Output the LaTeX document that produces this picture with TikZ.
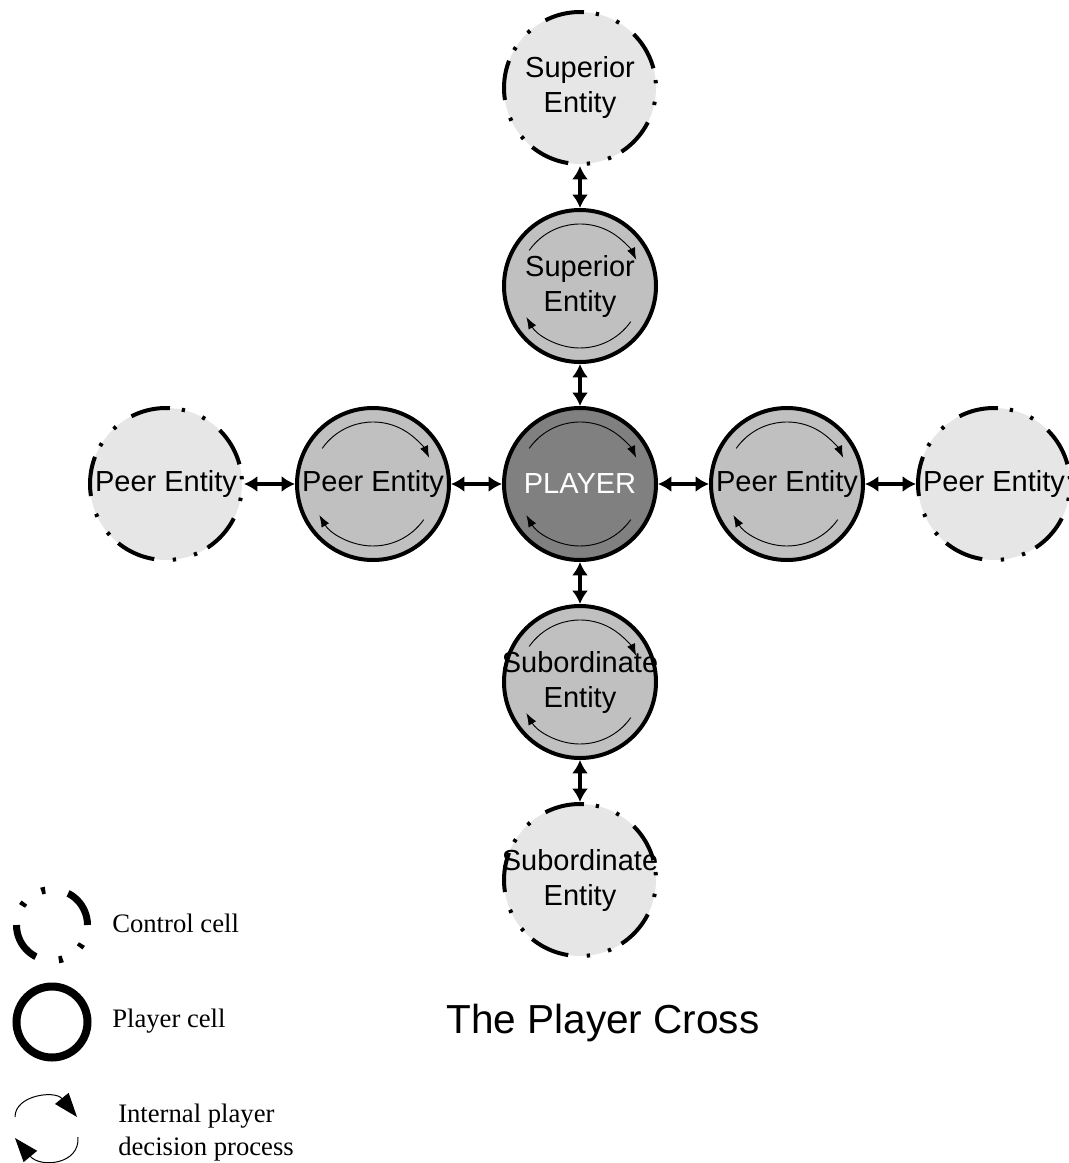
\documentclass[tikz,border=0pt]{standalone}
\usepackage{fontspec}
\setmainfont{Liberation Serif}
\newfontfamily\cellfont{Liberation Sans}
\usetikzlibrary{positioning, arrows.meta}
\definecolor{ctrlgray}{HTML}{E6E6E6}
\definecolor{playergray}{HTML}{C0C0C0}
\definecolor{centergray}{HTML}{808080}

\begin{document}
\begin{tikzpicture}[x=0.75pt, y=0.75pt, node distance=148.5pt and 155.25pt, on grid,
    cell/.style={circle, minimum size=114pt, inner sep=0pt, align=center,
      font=\cellfont\fontsize{21.75}{26.25}\selectfont},
    control/.style={cell, draw, fill=ctrlgray, line width=3pt,
      dash pattern=on 29.85pt off 13.93pt on 2.49pt off 13.93pt on 2.49pt off 8.96pt,
      dash phase=56.7pt},
    player/.style={cell, draw, fill=playergray, line width=3pt},
    link/.style={{Latex[length=10pt,width=12pt]}-{Latex[length=10pt,width=12pt]}, line width=3pt},
    inner turn/.style={-{Latex[length=9pt,width=6.5pt]}, line width=0.7pt},
    legend text/.style={inner sep=0pt, font=\fontsize{20}{24.75}\selectfont}]
    \useasboundingbox (0,0) rectangle (1068,-1163);

    % the cross
    \node[player, fill=centergray, text=white] (player) at (580,-484) {PLAYER};
    \node[player] (supcell) [above=of player] {Superior\\Entity};
    \node[control] (supctrl) [above=of supcell] {Superior\\Entity};
    \node[player] (subcell) [below=of player] {\makebox[0pt]{Subordinate}\\Entity};
    \node[control] (subctrl) [below=of subcell] {\makebox[0pt]{Subordinate}\\Entity};
    \node[player] (lpeer) [left=of player] {Peer Entity};
    \node[control] (lctrl) [left=of lpeer] {Peer Entity};
    \node[player] (rpeer) [right=of player] {Peer Entity};
    \node[control] (rctrl) [right=of rpeer] {Peer Entity};

    \foreach \c in {supcell, player, subcell, lpeer, rpeer} {
      \draw[inner turn] (\c.center) ++(145:62) arc[start angle=145, end angle=25, radius=62];
      \draw[inner turn] (\c.center) ++(325:62) arc[start angle=325, end angle=210, radius=62];
    }

    \path[link]
    (supctrl) edge (supcell)
    (supcell) edge (player)
    (player) edge (subcell)
    (subcell) edge (subctrl)
    (lctrl) edge (lpeer)
    (lpeer) edge (player)
    (player) edge (rpeer)
    (rpeer) edge (rctrl);

    \node[font=\cellfont\fontsize{30.4}{36}\selectfont, anchor=base] (title) at (603,-1033) {The Player Cross};

    % legend
    \node[circle, draw, line width=5.25pt, minimum size=53.25pt,
      dash pattern=on 29.3pt off 17.6pt on 3pt off 15.6pt on 3pt off 15.15pt] (legctrl) at (52,-925) {};
    \node[circle, draw, line width=6pt, minimum size=53.25pt] (legplayer) at (52,-1022) {};
    \coordinate (legturn) at (46,-1130);
    \draw[line width=0.75pt, -{Triangle[length=18pt,width=13pt]}]
      ([shift={(-31,13)}]legturn) .. controls +(0,22) and +(-22,27) .. ([shift={(31,13)}]legturn);
    \draw[line width=0.75pt, -{Triangle[length=18pt,width=13pt]}]
      ([shift={(32,-7)}]legturn) .. controls +(2,-28) and +(25,-30) .. ([shift={(-31,-8)}]legturn);

    \node[legend text, anchor=base west] (ctrltext) at (112,-932) {Control cell};
    \node[legend text, anchor=base west] (playertext) at (112,-1027) {Player cell};
    \node[legend text, anchor=base west, align=left] (turntext) at (118,-1155) {Internal player\\decision process};
\end{tikzpicture}
\end{document}
